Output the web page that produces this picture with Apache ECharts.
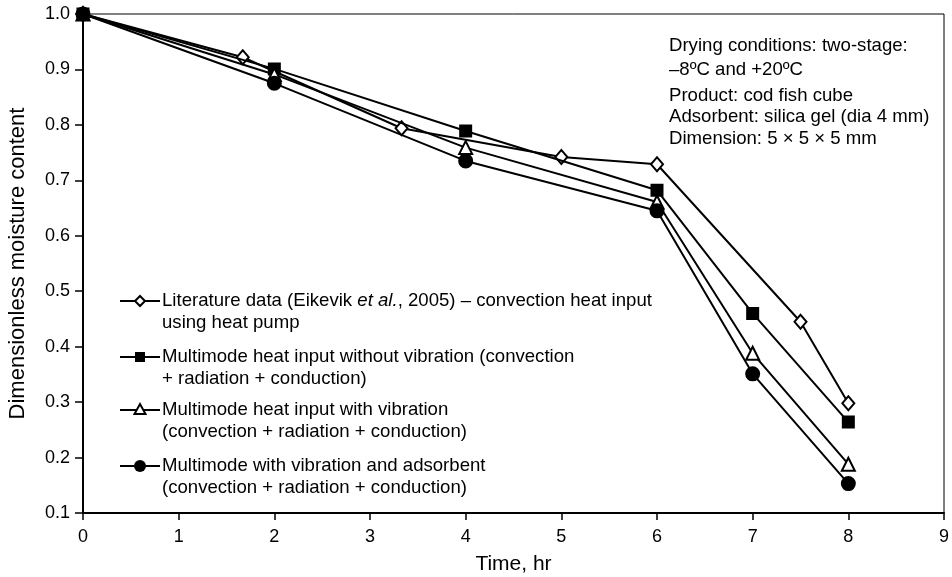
<!DOCTYPE html>
<html>
<head>
<meta charset="utf-8">
<script src="https://cdn.jsdelivr.net/npm/echarts@6/dist/echarts.min.js"></script>
<style>html,body{margin:0;padding:0;background:#fff}#c{width:952px;height:577px}</style>
</head>
<body>
<div id="c"></div>
<script>
var xTicks = [0,1,2,3,4,5,6,7,8,9];
var yTicks = [0.1,0.2,0.3,0.4,0.5,0.6,0.7,0.8,0.9,1.0];
var seriesNames = [
  'Literature data (Eikevik et al., 2005) – convection heat input using heat pump',
  'Multimode heat input without vibration (convection + radiation + conduction)',
  'Multimode heat input with vibration (convection + radiation + conduction)',
  'Multimode with vibration and adsorbent (convection + radiation + conduction)'
];
var literature = [[0,1.0],[1.67,0.922],[3.33,0.794],[5,0.742],[6,0.729],[7.5,0.445],[8,0.298]];
var noVibration = [[0,1.0],[2,0.901],[4,0.789],[6,0.682],[7,0.460],[8,0.264]];
var withVibration = [[0,1.0],[2,0.891],[4,0.759],[6,0.661],[7,0.388],[8,0.188]];
var withAdsorbent = [[0,1.0],[2,0.875],[4,0.735],[6,0.645],[7,0.351],[8,0.153]];
var notes = ['Drying conditions: two-stage:', '–8ºC and +20ºC', 'Product: cod fish cube', 'Adsorbent: silica gel (dia 4 mm)', 'Dimension: 5 × 5 × 5 mm'];

var FONT = '"Liberation Sans", Arial, Helvetica, sans-serif';
var TXT = 18.6;
var chart = echarts.init(document.getElementById('c'));

function lineSeries(name, data, symbol, size, filled, z) {
  return {
    name: name, type: 'line', data: data, symbol: symbol, symbolSize: size,
    showSymbol: true, z: z,
    lineStyle: {color: '#000', width: 2},
    itemStyle: {color: filled ? '#000' : '#fff', borderColor: '#000', borderWidth: 2},
    emphasis: {disabled: true}, animation: false
  };
}

var legendY = [301, 357, 410, 466];
var legendLines = [
  ['{n|Literature data (Eikevik }{i|et al.}{n|, 2005) – convection heat input}', '{n|using heat pump}'],
  ['{n|Multimode heat input without vibration (convection}', '{n|+ radiation + conduction)}'],
  ['{n|Multimode heat input with vibration}', '{n|(convection + radiation + conduction)}'],
  ['{n|Multimode with vibration and adsorbent}', '{n|(convection + radiation + conduction)}']
];
var rich = {n: {fontFamily: FONT, fontSize: TXT, fill: '#000'}, i: {fontFamily: FONT, fontSize: TXT, fontStyle: 'italic', fill: '#000'}};
var graphics = [];
legendY.forEach(function (y, k) {
  graphics.push({type: 'line', shape: {x1: 120, y1: y, x2: 160, y2: y}, style: {stroke: '#000', lineWidth: 2}});
  var mk;
  if (k === 0) mk = {type: 'polygon', shape: {points: [[140, y-5],[145, y],[140, y+5],[135, y]]}, style: {fill: '#fff', stroke: '#000', lineWidth: 2}};
  else if (k === 1) mk = {type: 'rect', shape: {x: 135, y: y-5, width: 10, height: 10}, style: {fill: '#000'}};
  else if (k === 2) mk = {type: 'polygon', shape: {points: [[140, y-6],[145.5, y+4],[134.5, y+4]]}, style: {fill: '#fff', stroke: '#000', lineWidth: 2}};
  else mk = {type: 'circle', shape: {cx: 140, cy: y, r: 6}, style: {fill: '#000'}};
  graphics.push(mk);
  legendLines[k].forEach(function (t, j) {
    graphics.push({type: 'text', x: 162, y: y + j * 21.6, style: {text: t, rich: rich, verticalAlign: 'middle', textVerticalAlign: 'middle'}});
  });
});
var noteY = [46, 70, 96, 117, 139];
notes.forEach(function (t, j) {
  graphics.push({type: 'text', x: 669, y: noteY[j], style: {text: t, font: TXT + 'px ' + FONT, fill: '#000', verticalAlign: 'middle', textVerticalAlign: 'middle'}});
});

chart.setOption({
  animation: false,
  backgroundColor: '#fff',
  grid: {left: 83, right: 8, top: 14, bottom: 64, show: true, borderColor: '#000', borderWidth: 1, backgroundColor: 'transparent', containLabel: false, outerBoundsMode: 'none'},
  xAxis: {
    type: 'value', min: 0, max: 9, interval: 1,
    name: 'Time, hr', nameLocation: 'middle', nameGap: 41,
    nameTextStyle: {fontFamily: FONT, fontSize: 21, color: '#000'},
    axisLine: {show: true, onZero: false, lineStyle: {color: '#000', width: 2}},
    axisTick: {show: true, inside: false, length: 7, lineStyle: {color: '#000', width: 1.5}},
    axisLabel: {fontFamily: FONT, fontSize: 18, color: '#000', margin: 15},
    splitLine: {show: false}
  },
  yAxis: {
    type: 'value', min: 0.1, max: 1.0, interval: 0.1,
    name: 'Dimensionless moisture content', nameLocation: 'middle', nameGap: 54, nameRotate: 90,
    nameTextStyle: {fontFamily: FONT, fontSize: 22, color: '#000'},
    axisLine: {show: true, onZero: false, lineStyle: {color: '#000', width: 2}},
    axisTick: {show: true, inside: false, length: 8, lineStyle: {color: '#000', width: 1.5}},
    axisLabel: {fontFamily: FONT, fontSize: 18, color: '#000', margin: 13, formatter: function (v) { return v.toFixed(1); }},
    splitLine: {show: false}
  },
  series: [
    lineSeries(seriesNames[0], literature, 'diamond', [12, 14], false, 2),
    lineSeries(seriesNames[1], noVibration, 'rect', 11, true, 3),
    lineSeries(seriesNames[2], withVibration, 'triangle', 13, false, 4),
    lineSeries(seriesNames[3], withAdsorbent, 'circle', 13, true, 5)
  ],
  graphic: graphics
});
</script>
</body>
</html>
